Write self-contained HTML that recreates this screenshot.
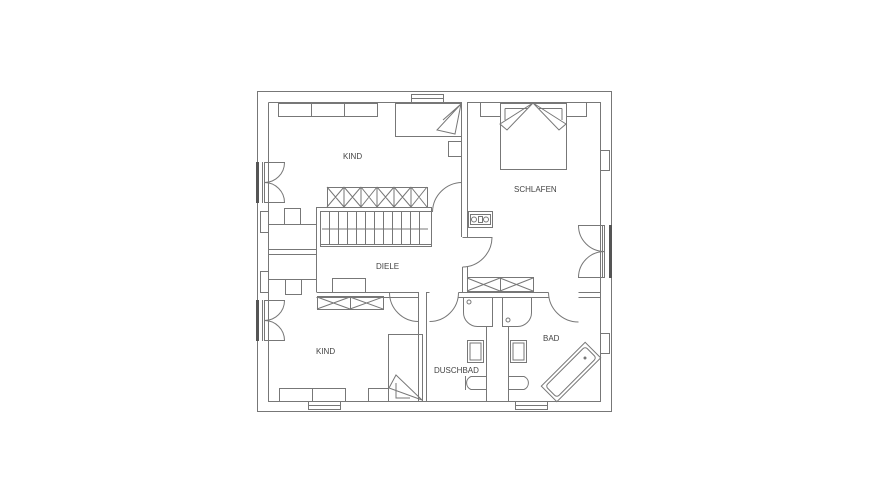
<!DOCTYPE html><html><head><style>body{margin:0;background:#fff}svg{display:block}text{font-family:"Liberation Sans",sans-serif;font-size:8px;fill:#444}</style></head><body>
<svg width="870" height="504" viewBox="0 0 870 504" fill="none" stroke="#777" stroke-width="1">
<rect x="257.5" y="91.5" width="354" height="320"/>
<path d="M268.5 102.5H461.5V237M467.5 237V102.5H600.5V401.5H268.5V102.5"/>
<rect x="411.5" y="94.5" width="32" height="8"/><path d="M411 98.5H444"/>
<rect x="308.5" y="401.5" width="32" height="8"/><path d="M308 405.5H341"/>
<rect x="515.5" y="401.5" width="32" height="8"/><path d="M515 405.5H548"/>
<rect x="256" y="162" width="3" height="41" fill="#555" stroke="none"/>
<path d="M262.5 162V203M264.5 162V203M264.5 162.5H284.5A20 20 0 0 1 264.5 182.5A20 20 0 0 1 284.5 202.5H264.5"/>
<rect x="256" y="300" width="3" height="41" fill="#555" stroke="none"/>
<path d="M262.5 300V341M264.5 300V341M264.5 300.5H284.5A20 20 0 0 1 264.5 320.5A20 20 0 0 1 284.5 340.5H264.5"/>
<rect x="260.5" y="211.5" width="8" height="21"/><rect x="260.5" y="271.5" width="8" height="21"/>
<rect x="600.5" y="150.5" width="9" height="20"/><rect x="600.5" y="333.5" width="9" height="20"/>
<rect x="609" y="225" width="3" height="53" fill="#555" stroke="none"/>
<path d="M604.5 225V278M602.5 225V278M604.5 225.5H578.5A26 26 0 0 0 604.5 251.5A26 26 0 0 0 578.5 277.5H604.5"/>
<rect x="278.5" y="103.5" width="99" height="13"/><path d="M311.5 103V116M344.5 103V116"/>
<rect x="395.5" y="103.5" width="66" height="33"/><path d="M461 104L437 130L455 134Z M461 104L443 120"/>
<rect x="448.5" y="141.5" width="13" height="15"/>
<rect x="327.5" y="187.5" width="100" height="20"/>
<path d="M344 187V207M361 187V207M377 187V207M394 187V207M411 187V207M327 187L344 207M344 187L327 207M344 187L361 207M361 187L344 207M361 187L377 207M377 187L361 207M377 187L394 207M394 187L377 207M394 187L411 207M411 187L394 207M411 187L427 207M427 187L411 207"/>
<path d="M316.5 292V207.5H431.5V211.5H320.5V246.5H431.5V211.5M320.5 244.5H431.5"/>
<path d="M329.5 212V244M338.5 212V244M347.5 212V244M356.5 212V244M365.5 212V244M374.5 212V244M383.5 212V244M392.5 212V244M401.5 212V244M410.5 212V244M419.5 212V244M322 229H428"/>
<path d="M432.5 212A30 30 0 0 1 462 182.5"/>
<rect x="268.5" y="224.5" width="48" height="25"/><rect x="284.5" y="208.5" width="16" height="16"/>
<rect x="268.5" y="254.5" width="48" height="25"/><rect x="285.5" y="279.5" width="16" height="15"/>
<rect x="332.5" y="278.5" width="33" height="14"/>
<path d="M316.5 292.5H418.5V401M426.5 401V292.5H429.5M418 297.5H316.5"/>
<rect x="317.5" y="296.5" width="66" height="13"/><path d="M350.5 297V309M317 297L350 309M350 297L317 309M350 297L383 309M383 297L350 309"/>
<path d="M389.5 292.5A29 29 0 0 0 418.5 321.5M458.5 292.5A29 29 0 0 1 429.5 321.5"/>
<path d="M462.5 237.5H492A30 30 0 0 1 462.5 267M462.5 267V292.5M467.5 267V292.5"/>
<rect x="467.5" y="277.5" width="66" height="14"/><path d="M500.5 278V291M467 278L500 291M500 278L467 291M500 278L533 291M533 278L500 291"/>
<path d="M458.5 292.5H548.5M458.5 297.5H548.5M578.5 292.5H600M578.5 297.5H600M548.5 292.5A30 30 0 0 0 578.5 322"/>
<rect x="468.5" y="211.5" width="24" height="16"/><rect x="470.5" y="214.5" width="20" height="10"/>
<circle cx="474" cy="219.5" r="2.5"/><circle cx="486" cy="219.5" r="2.5"/><rect x="478.5" y="216.5" width="4" height="6"/>
<path d="M486.5 326V401M508.5 326V401"/>
<path d="M463.5 297.5H492.5V326.5H478A14 14 0 0 1 463.5 312Z"/>
<path d="M502.5 297.5H531.5V312A14 14 0 0 1 517 326.5H502.5Z"/>
<circle cx="469" cy="302" r="2"/><circle cx="508" cy="320" r="2"/>
<rect x="467.5" y="340.5" width="16" height="22"/><rect x="470" y="343" width="11" height="17"/>
<rect x="510.5" y="340.5" width="16" height="22"/><rect x="513" y="343" width="11" height="17"/>
<path d="M486 376.5H471A7 7 0 0 0 471 389.5H486M465.5 376V390"/>
<path d="M508.5 376.5H524A7 7 0 0 1 524 389.5H508.5"/>
<g transform="translate(571 372) rotate(-45)"><rect x="-31" y="-11" width="62" height="22"/><rect x="-28" y="-8" width="56" height="16" rx="3"/></g>
<circle cx="585" cy="358" r="1" fill="#777"/>
<rect x="500.5" y="103.5" width="66" height="66"/>
<path d="M480.5 103V116.5H500M566 116.5H586.5V103M505 108.5H528M539 108.5H562M505 108.5V120M562 108.5V120M533 103L500 124L507 130ZM533 103L566 124L559 130Z"/>
<rect x="388.5" y="334.5" width="34" height="67"/><path d="M396 375L422 400L389 388Z M396 383V398H410"/>
<rect x="368.5" y="388.5" width="20" height="13"/>
<rect x="279.5" y="388.5" width="66" height="13"/><path d="M312.5 388V401"/>
<g stroke="none">
<text x="343" y="159">KIND</text><text x="514" y="192">SCHLAFEN</text><text x="376" y="269">DIELE</text>
<text x="316" y="354">KIND</text><text x="434" y="373">DUSCHBAD</text><text x="543" y="341">BAD</text></g>
</svg></body></html>
